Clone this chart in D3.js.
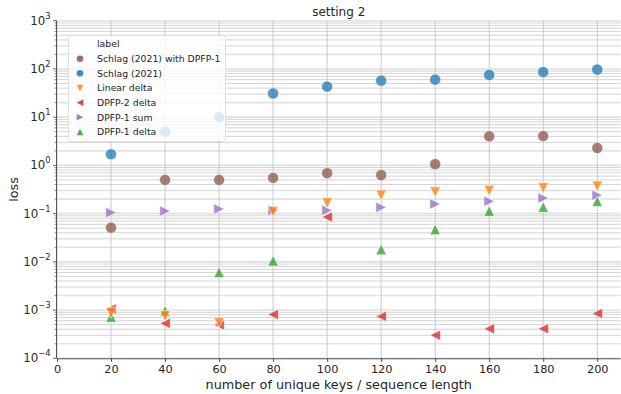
<!DOCTYPE html>
<html><head><meta charset="utf-8">
<script src="https://cdn.jsdelivr.net/npm/d3@7"></script>
<style>body{margin:0;background:#fff}svg{display:block;font-family:"DejaVu Sans",sans-serif}</style>
</head><body><svg id="c" width="621" height="394"></svg>
<script>
const xValues = [20,40,60,80,100,120,140,160,180,200];
const seriesNames = ["Schlag (2021) with DPFP-1","Schlag (2021)","Linear delta","DPFP-2 delta","DPFP-1 sum","DPFP-1 delta"];
const schlagDpfp1 = [0.051,0.5,0.5,0.55,0.69,0.63,1.06,4.0,4.05,2.3];
const schlag = [1.7,5.0,10.0,31,43,57,60,75,86,97];
const linearDelta = [0.00087,0.00075,0.00055,0.11,0.166,0.24,0.28,0.30,0.34,0.37];
const dpfp2Delta = [0.00105,0.00053,0.00049,0.00081,0.085,0.00074,0.0003,0.00041,0.00041,0.00085];
const dpfp1Sum = [0.105,0.113,0.125,0.117,0.117,0.135,0.158,0.18,0.21,0.24];
const dpfp1Delta = [0.00072,0.00096,0.0061,0.0105,null,0.018,0.047,0.113,0.137,0.18];
const xTicks = [0,20,40,60,80,100,120,140,160,180,200];
const yExps = [-4,-3,-2,-1,0,1,2,3];
const colors = ["#8c564b","#1f77b4","#ff7f0e","#d62728","#9467bd","#2ca02c"];
const shapes = ["circle","circle","down","left","right","up"];
const seriesValues = [schlagDpfp1,schlag,linearDelta,dpfp2Delta,dpfp1Sum,dpfp1Delta];
const drawOrder = [0,1,3,4,5,2];

const svg = d3.select("#c");
const L=57, R=620.5, T=20.7, B=358.3;
const x = d3.scaleLinear().domain([0,208.6]).range([L,R]);
const y = d3.scaleLog().domain([1e-4,1e3]).range([B,T]);

// grid
const g = svg.append("g");
const minors=[];
for(let e=-4;e<3;e++) for(let k=2;k<=9;k++) minors.push(k*Math.pow(10,e));
const isTwo = d=>Math.abs(d/Math.pow(10,Math.floor(Math.log10(d)+1e-9))-2)<1e-6;
g.selectAll(".mn").data(minors).enter().append("line")
 .attr("x1",L).attr("x2",R).attr("y1",d=>y(d)).attr("y2",d=>y(d))
 .attr("stroke",d=>isTwo(d)?"#e3e3e3":"#c8c8c8")
 .attr("stroke-width",d=>isTwo(d)?1.6:0.8);
g.selectAll(".mj").data(yExps).enter().append("line")
 .attr("x1",L).attr("x2",R).attr("y1",d=>y(Math.pow(10,d))).attr("y2",d=>y(Math.pow(10,d)))
 .attr("stroke","#e0e0e0").attr("stroke-width",1.6);
g.selectAll(".vx").data(xTicks).enter().append("line")
 .attr("x1",d=>x(d)).attr("x2",d=>x(d)).attr("y1",T).attr("y2",B)
 .attr("stroke","#c4c4c4").attr("stroke-width",0.9);

// axes
const xAxis = d3.axisBottom(x).tickValues(xTicks).tickSize(3.5).tickPadding(3);
const xg = svg.append("g").attr("transform",`translate(0,${B})`).call(xAxis);
xg.select(".domain").attr("d",`M${L},0.5H${R}`).attr("stroke","#444").attr("stroke-width",0.9);
xg.selectAll("text").attr("font-size",11.3).attr("fill","#262626").attr("font-family","DejaVu Sans");
xg.selectAll(".tick line").attr("stroke","#444");

const yg = svg.append("g").attr("transform",`translate(${L-0.5},0)`);
yg.append("line").attr("x1",0).attr("x2",0).attr("y1",T).attr("y2",B).attr("stroke","#444").attr("stroke-width",0.9);
yg.selectAll(".mt").data(minors).enter().append("line")
 .attr("x1",-2).attr("x2",0).attr("y1",d=>y(d)).attr("y2",d=>y(d)).attr("stroke","#444").attr("stroke-width",0.6);
yg.selectAll(".Mt").data(yExps).enter().append("line")
 .attr("x1",-3.5).attr("x2",0).attr("y1",d=>y(Math.pow(10,d))).attr("y2",d=>y(Math.pow(10,d))).attr("stroke","#444").attr("stroke-width",0.8);
const yl = yg.selectAll(".yl").data(yExps).enter().append("text")
 .attr("x",-6).attr("y",d=>y(Math.pow(10,d))+4).attr("text-anchor","end")
 .attr("font-size",11.8).attr("fill","#262626");
yl.append("tspan").text("10");
yl.append("tspan").attr("dy",-6).attr("font-size",8.4).text(d=>d<0?"\u2212"+(-d):d);

// labels
svg.append("text").attr("x",(L+R)/2).attr("y",15.5).attr("text-anchor","middle").attr("font-size",12).attr("fill","#262626").text("setting 2");
svg.append("text").attr("x",(L+R)/2).attr("y",389).attr("text-anchor","middle").attr("font-size",12.8).attr("fill","#262626").text("number of unique keys / sequence length");
svg.append("text").attr("transform",`translate(18,${(T+B)/2}) rotate(-90)`).attr("text-anchor","middle").attr("font-size",12.8).attr("fill","#262626").text("loss");

// markers
function path(shape,r){
  if(shape==="circle") return d3.symbol(d3.symbolCircle, Math.PI*r*r)();
  if(shape==="up") return `M0,${-r}L${r},${r}L${-r},${r}Z`;
  if(shape==="down") return `M0,${r}L${r},${-r}L${-r},${-r}Z`;
  if(shape==="left") return `M${-r},0L${r},${-r}L${r},${r}Z`;
  if(shape==="right") return `M${r},0L${-r},${-r}L${-r},${r}Z`;
}
const pts = svg.append("g");
drawOrder.forEach(i=>{
  const vals = seriesValues[i];
  const data = xValues.map((xv,j)=>({x:xv,v:vals[j]})).filter(d=>d.v!=null);
  pts.selectAll(".s"+i).data(data).enter().append("path")
   .attr("d",path(shapes[i],shapes[i]==="circle"?5.6:5.3))
   .attr("transform",d=>`translate(${x(d.x)},${y(d.v)})`)
   .attr("fill",colors[i]).attr("fill-opacity",0.75)
   .attr("stroke","#fff").attr("stroke-width",0.6);
});

// legend
const lg = svg.append("g");
lg.append("rect").attr("x",68.5).attr("y",35.5).attr("width",157).attr("height",106).attr("rx",3)
 .attr("fill","#fff").attr("fill-opacity",0.8).attr("stroke","#dddddd").attr("stroke-width",0.9);
lg.append("text").attr("x",97).attr("y",46.5).attr("font-size",9.3).attr("fill","#262626").text("label");
seriesNames.forEach((n,i)=>{
  const yy = 58.7 + i*14.65;
  lg.append("path").attr("d",path(shapes[i],3.3)).attr("transform",`translate(80,${yy})`)
   .attr("fill",colors[i]).attr("fill-opacity",0.85);
  lg.append("text").attr("x",97).attr("y",yy+3.3).attr("font-size",9.3).attr("fill","#262626").text(n);
});
</script></body></html>
